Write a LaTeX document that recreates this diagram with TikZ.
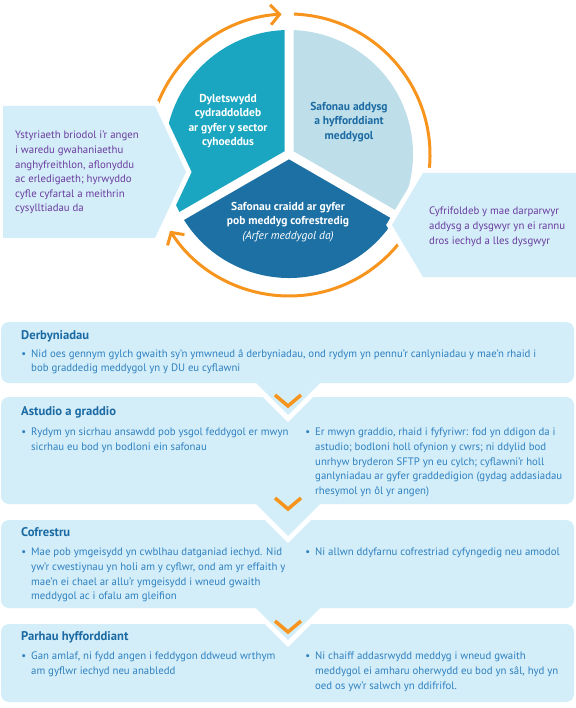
\documentclass[tikz,border=0pt]{standalone}
\usepackage{fontspec}
\setmainfont{PT Sans}
\usetikzlibrary{arrows.meta}
\definecolor{boxc}{HTML}{D3EEF9}
\definecolor{headc}{HTML}{1B6AA3}
\definecolor{bodyc}{HTML}{2F80C0}
\definecolor{purp}{HTML}{6A3C9F}
\definecolor{tealc}{HTML}{1AA6C0}
\definecolor{lightc}{HTML}{BEDFE9}
\definecolor{darkc}{HTML}{1D70A4}
\definecolor{orangec}{HTML}{F7941D}
\newcommand{\bodyfont}{\fontsize{10.8}{14.6}\selectfont}
\newcommand{\headfont}{\fontsize{12.6}{14}\selectfont\bfseries}
\newcommand{\piefont}{\fontsize{11.5}{14.5}\selectfont\bfseries}
\newcommand{\bul}{\llap{\textbullet\hspace{5pt}}}
\tikzset{
  panel/.style={fill=boxc, preaction={draw=white, line width=10pt}},
  head/.style={anchor=north west, inner sep=0pt, font=\headfont, text=headc},
  body/.style={anchor=north west, inner sep=0pt, font=\bodyfont, text=bodyc, align=left},
  callt/.style={anchor=north west, inner sep=0pt, font=\bodyfont, text=purp, align=left},
  pietext/.style={anchor=north, inner sep=0pt, font=\piefont, align=center},
  chev/.style={draw=orangec, line width=3.5pt},
  ring/.style={draw=orangec, line width=3pt, -{Straight Barb[length=9pt,width=20pt,line width=3pt]}}
}
\begin{document}
\begin{tikzpicture}[x=1pt,y=1pt]
\useasboundingbox (0,0) rectangle (575,-708);
% ---- orange ring arrows
\coordinate (C) at (289,-155);
\draw[ring] (C) ++(204:141) arc[start angle=204, end angle=93, radius=141];
\draw[ring] (C) ++(88:141) arc[start angle=88, end angle=-147.5, radius=141];
% ---- pie
\coordinate (P) at (289,-154);
\fill[tealc] (P) -- ++(90:124) arc[start angle=90, end angle=210, radius=124] -- cycle;
\fill[lightc] (P) -- ++(-30:124) arc[start angle=-30, end angle=90, radius=124] -- cycle;
\fill[darkc] (P) -- ++(210:124) arc[start angle=210, end angle=330, radius=124] -- cycle;
\draw[white, line width=9pt] (P) -- ++(90:130) (P) -- ++(210:130) (P) -- ++(330:130);
\fill[white] (P) circle (4.5pt);
\node[pietext, text=white] (duty) at (228,-94) {Dyletswydd\\cydraddoldeb\\ar gyfer y sector\\cyhoeddus};
\node[pietext, text=headc] (edu) at (349,-102) {Safonau addysg\\a hyfforddiant\\meddygol};
\node[pietext, text=white] (core) at (288,-202) {Safonau craidd ar gyfer\\pob meddyg cofrestredig\\{\mdseries\itshape (Arfer meddygol da)}};
% ---- callouts
\path[panel] (3,-106) -- (155,-106) -- (186,-172) -- (155,-238) -- (3,-238) -- cycle;
\node[callt] (leftnote) at (15,-131) {Ystyriaeth briodol i'r angen\\i waredu gwahaniaethu\\anghyfreithlon, aflonyddu\\ac erledigaeth; hyrwyddo\\cyfle cyfartal a meithrin\\cysylltiadau da};
\path[panel] (423,-173) -- (580,-173) -- (580,-277) -- (423,-277) -- (392,-225) -- cycle;
\node[callt] (rightnote) at (429,-207) {Cyfrifoldeb y mae darparwyr\\addysg a dysgwyr yn ei rannu\\dros iechyd a lles dysgwyr};
% ---- stage panels (bottom first)
\path[panel, rounded corners=8pt] (1,-624) rectangle (574,-702);
\path[panel] [rounded corners=8pt] (1,-520) -- (574,-520) -- (574,-608) -- (1,-608) -- cycle
  [sharp corners] (254,-606) -- (322,-606) -- (288,-640) -- cycle;
\path[panel] [rounded corners=8pt] (1,-397) -- (574,-397) -- (574,-504) -- (1,-504) -- cycle
  [sharp corners] (254,-502) -- (322,-502) -- (288,-536) -- cycle;
\path[panel] [rounded corners=8pt] (1,-322) -- (574,-322) -- (574,-383) -- (1,-383) -- cycle
  [sharp corners] (254,-381) -- (322,-381) -- (288,-415) -- cycle;
% ---- chevrons
\draw[chev] (275,-395) -- (288,-406) -- (301,-395);
\draw[chev] (275,-498) -- (288,-509) -- (301,-498);
\draw[chev] (275,-621) -- (288,-632) -- (301,-621);
% ---- texts
\node[head] (h1) at (21,-330) {Derbyniadau};
\node[body] (b1) at (31,-349) {\bul Nid oes gennym gylch gwaith sy'n ymwneud â derbyniadau, ond rydym yn pennu'r canlyniadau y mae'n rhaid i\\bob graddedig meddygol yn y DU eu cyflawni};
\node[head] (h2) at (21,-406) {Astudio a graddio};
\node[body] (b2l) at (31,-428) {\bul Rydym yn sicrhau ansawdd pob ysgol feddygol er mwyn\\sicrhau eu bod yn bodloni ein safonau};
\node[body] (b2r) at (315,-428) {\bul Er mwyn graddio, rhaid i fyfyriwr: fod yn ddigon da i\\astudio; bodloni holl ofynion y cwrs; ni ddylid bod\\unrhyw bryderon SFTP yn eu cylch; cyflawni'r holl\\ganlyniadau ar gyfer graddedigion (gydag addasiadau\\rhesymol yn ôl yr angen)};
\node[head] (h3) at (21,-527) {Cofrestru};
\node[body] (b3l) at (31,-548) {\bul Mae pob ymgeisydd yn cwblhau datganiad iechyd. Nid\\yw'r cwestiynau yn holi am y cyflwr, ond am yr effaith y\\mae'n ei chael ar allu'r ymgeisydd i wneud gwaith\\meddygol ac i ofalu am gleifion};
\node[body] (b3r) at (315,-548) {\bul Ni allwn ddyfarnu cofrestriad cyfyngedig neu amodol};
\node[head] (h4) at (21,-631) {Parhau hyfforddiant};
\node[body] (b4l) at (31,-652) {\bul Gan amlaf, ni fydd angen i feddygon ddweud wrthym\\am gyflwr iechyd neu anabledd};
\node[body] (b4r) at (315,-652) {\bul Ni chaiff addasrwydd meddyg i wneud gwaith\\meddygol ei amharu oherwydd eu bod yn sâl, hyd yn\\oed os yw'r salwch yn ddifrifol.};
\end{tikzpicture}
\end{document}
